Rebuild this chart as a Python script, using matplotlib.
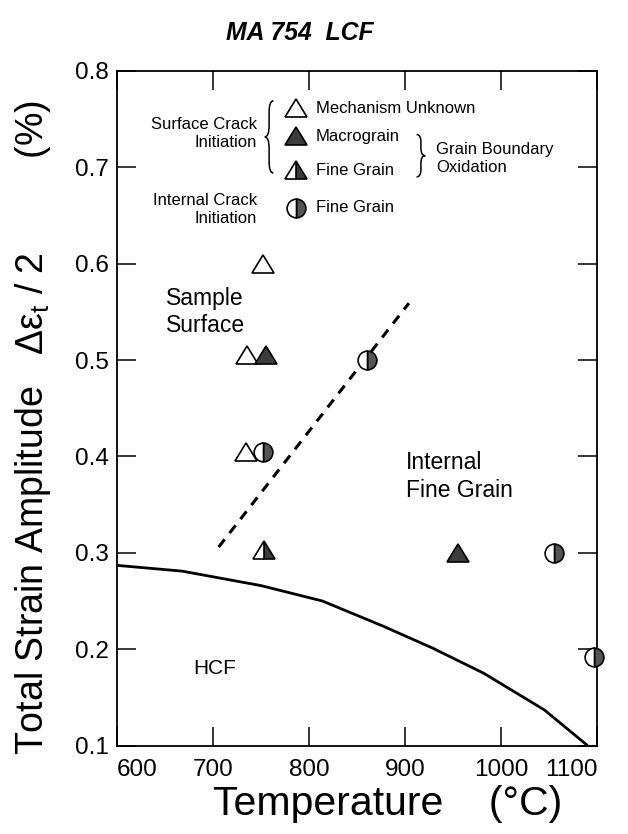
import matplotlib
matplotlib.use("Agg")
import matplotlib.pyplot as plt
from matplotlib.markers import MarkerStyle
from matplotlib.transforms import Affine2D
from matplotlib.path import Path
from matplotlib.patches import PathPatch

plt.rcParams['font.family'] = ['Liberation Sans', 'DejaVu Sans']
plt.rcParams['mathtext.fontset'] = 'custom'
plt.rcParams['mathtext.rm'] = 'Liberation Sans'
plt.rcParams['mathtext.it'] = 'Liberation Sans:italic'

# --- dati ---
unknown_T = [752, 735, 734]
unknown_eps = [0.60, 0.505, 0.405]

macro_T = [755, 955]
macro_eps = [0.505, 0.30]

fine_surf_T = [753]
fine_surf_eps = [0.303]

fine_int_T = [752, 860, 1055, 1097]
fine_int_eps = [0.405, 0.50, 0.30, 0.192]

# linea HCF
hcf_T = [600, 668, 750, 814, 877, 929, 982, 1045, 1090]
hcf_eps = [0.287, 0.281, 0.266, 0.250, 0.224, 0.201, 0.175, 0.137, 0.100]

# confine tratteggiato superficie / interno
bound_T = [706, 904]
bound_eps = [0.306, 0.559]

x_ticks = [600, 700, 800, 900, 1000, 1100]
y_ticks = [0.1, 0.2, 0.3, 0.4, 0.5, 0.6, 0.7, 0.8]

DARK = '#3c3c3c'
HALF = '#555555'

squash = Affine2D().scale(1.0, 0.85)
tri_open = MarkerStyle('^', fillstyle='none', transform=squash)
tri_full = MarkerStyle('^', fillstyle='full', transform=squash)
tri_half = MarkerStyle('^', fillstyle='right', transform=squash)
circ_half = MarkerStyle('o', fillstyle='right')

TRI_KW = dict(linestyle='none', markersize=16, markeredgecolor='black',
              markeredgewidth=1.2, clip_on=False, zorder=5)
CIRC_KW = dict(linestyle='none', markersize=13.5, markeredgecolor='black',
               markeredgewidth=1.2, clip_on=False, zorder=5)


def brace(ax, x, y0, y1, w, d):
    # w > 0 -> '{' con punta a sinistra, w < 0 -> '}'
    ym = (y0 + y1) / 2
    xm = x - w / 2
    verts = [(x, y1), (xm, y1), (xm, y1 - d),
             (xm, ym + d), (xm, ym), (x - w, ym),
             (xm, ym), (xm, ym - d),
             (xm, y0 + d), (xm, y0), (x, y0)]
    codes = [Path.MOVETO, Path.CURVE3, Path.CURVE3,
             Path.LINETO, Path.CURVE3, Path.CURVE3,
             Path.CURVE3, Path.CURVE3,
             Path.LINETO, Path.CURVE3, Path.CURVE3]
    ax.add_patch(PathPatch(Path(verts, codes), fill=False, lw=1.1,
                           edgecolor='black', clip_on=False))


fig = plt.figure(figsize=(6.28, 8.34), dpi=100)
ax = fig.add_axes([0.186, 0.106, 0.765, 0.809])

ax.plot(hcf_T, hcf_eps, color='black', lw=2.0, solid_capstyle='butt')
ax.plot(bound_T, bound_eps, color='black', lw=2.2, dashes=(3.2, 2.6))

ax.plot(unknown_T, unknown_eps, marker=tri_open, **TRI_KW)
ax.plot(macro_T, macro_eps, marker=tri_full, markerfacecolor=DARK, **TRI_KW)
ax.plot(fine_surf_T, fine_surf_eps, marker=tri_half, markerfacecolor=DARK,
        markerfacecoloralt='white', **TRI_KW)
ax.plot(fine_int_T, fine_int_eps, marker=circ_half, markerfacecolor=HALF,
        markerfacecoloralt='white', **CIRC_KW)

# legenda interna
LEG = 12
ax.text(746, 0.735, 'Surface Crack\nInitiation', fontsize=LEG, ha='right',
        va='center', multialignment='right', linespacing=1.25)
brace(ax, 763, 0.694, 0.769, 9, 0.012)
ax.plot([787], [0.761], marker=tri_open, **TRI_KW)
ax.plot([787], [0.732], marker=tri_full, markerfacecolor=DARK, **TRI_KW)
ax.plot([787], [0.697], marker=tri_half, markerfacecolor=DARK,
        markerfacecoloralt='white', **TRI_KW)
ax.text(807, 0.761, 'Mechanism Unknown', fontsize=LEG, va='center')
ax.text(807, 0.732, 'Macrograin', fontsize=LEG, va='center')
ax.text(807, 0.697, 'Fine Grain', fontsize=LEG, va='center')
brace(ax, 912, 0.690, 0.734, -9, 0.008)
ax.text(932, 0.709, 'Grain Boundary\nOxidation', fontsize=LEG, va='center',
        linespacing=1.2)
ax.text(746, 0.656, 'Internal Crack\nInitiation', fontsize=LEG, ha='right',
        va='center', multialignment='right', linespacing=1.25)
ax.plot([787], [0.658], marker=circ_half, markerfacecolor=HALF,
        markerfacecoloralt='white', **CIRC_KW)
ax.text(807, 0.658, 'Fine Grain', fontsize=LEG, va='center')

# etichette delle regioni
ax.text(651, 0.55, 'Sample\nSurface', fontsize=16.5, va='center', linespacing=1.25)
ax.text(901, 0.379, 'Internal\nFine Grain', fontsize=16.5, va='center',
        linespacing=1.25)
ax.text(680, 0.18, 'HCF', fontsize=15, va='center')

ax.set_xlim(600, 1100)
ax.set_ylim(0.1, 0.8)
ax.set_xticks(x_ticks)
ax.set_xticklabels([str(t) for t in x_ticks])
ax.set_yticks(y_ticks)
ax.set_yticklabels([f'{t:.1f}' for t in y_ticks])
ax.tick_params(direction='in', length=14, width=1.1, labelsize=17.5,
               top=True, right=True)
ax.tick_params(axis='y', pad=6)
ax.tick_params(axis='x', pad=10)
xlabs = ax.get_xticklabels()
xlabs[0].set_horizontalalignment('left')
xlabs[-1].set_horizontalalignment('right')
for s in ax.spines.values():
    s.set_linewidth(1.3)

fig.text(0.617, 0.036, 'Temperature    (°C)', fontsize=29.5, ha='center',
         va='center')
fig.text(0.053, 0.487,
         'Total Strain Amplitude   Δε$_\\mathregular{t}$ / 2         (%)',
         fontsize=27, rotation=90, ha='center', va='center')
fig.text(0.478, 0.96, 'MA 754  LCF', fontsize=17.8, fontweight='bold',
         fontstyle='italic', ha='center', va='center')

fig.savefig('out.png', dpi=100)
